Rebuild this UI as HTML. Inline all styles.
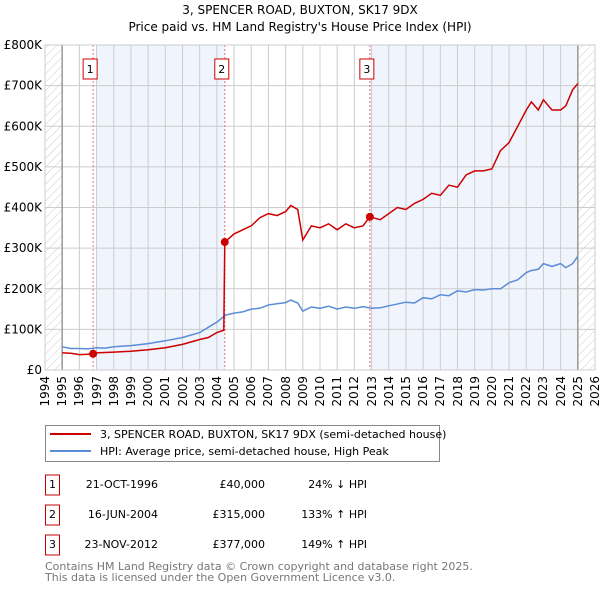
<!DOCTYPE html>
<html><head><meta charset="utf-8"><style>
body{margin:0;background:#fff;position:relative;width:600px;height:590px;overflow:hidden;}
svg{display:block;font-family:"DejaVu Sans","Liberation Sans",sans-serif;}
.xl{position:absolute;top:376px;width:14px;font:12px "DejaVu Sans","Liberation Sans",sans-serif;writing-mode:vertical-rl;transform:rotate(180deg);line-height:14px;white-space:nowrap;}
</style></head><body>
<svg id="c" width="600" height="590" viewBox="0 0 600 590">
<defs><pattern id="hatch" width="6" height="6" patternUnits="userSpaceOnUse" patternTransform="rotate(45)"><line x1="0" y1="0" x2="0" y2="6" stroke="#ccc" stroke-width="1"/></pattern></defs>
<text x="300" y="14" text-anchor="middle" font-size="12">3, SPENCER ROAD, BUXTON, SK17 9DX</text>
<text x="300" y="31" text-anchor="middle" font-size="12">Price paid vs. HM Land Registry's House Price Index (HPI)</text>
<g id="plot"></g>
<g>
<rect x="45.5" y="425.5" width="394" height="36" fill="#fff" stroke="#888"/>
<line x1="50" y1="434" x2="91" y2="434" stroke="#cc0000" stroke-width="2"/>
<text x="100" y="438" font-size="11">3, SPENCER ROAD, BUXTON, SK17 9DX (semi-detached house)</text>
<line x1="50" y1="451" x2="91" y2="451" stroke="#5b8dd6" stroke-width="2"/>
<text x="100" y="455" font-size="11">HPI: Average price, semi-detached house, High Peak</text>
</g>
<g id="table" font-size="11"></g>
<text x="45" y="570" font-size="11" fill="#777">Contains HM Land Registry data © Crown copyright and database right 2025.</text>
<text x="45" y="581" font-size="11" fill="#777">This data is licensed under the Open Government Licence v3.0.</text>
</svg>
<div id="xlabels"></div>
<script>
const yTicks=[0,100,200,300,400,500,600,700,800];
const yTickLabels=["£0","£100K","£200K","£300K","£400K","£500K","£600K","£700K","£800K"];
const years=[1994,1995,1996,1997,1998,1999,2000,2001,2002,2003,2004,2005,2006,2007,2008,2009,2010,2011,2012,2013,2014,2015,2016,2017,2018,2019,2020,2021,2022,2023,2024,2025,2026];
const hpiT=[1995,1995.5,1996,1996.5,1997,1997.5,1998,1999,2000,2001,2002,2003,2003.5,2004,2004.5,2005,2005.5,2006,2006.5,2007,2007.5,2008,2008.3,2008.7,2009,2009.5,2010,2010.5,2011,2011.5,2012,2012.5,2013,2013.5,2014,2015,2015.5,2016,2016.5,2017,2017.5,2018,2018.5,2019,2019.5,2020,2020.5,2021,2021.5,2022,2022.3,2022.7,2023,2023.5,2024,2024.3,2024.7,2025];
const hpiV=[57,53,53,52,55,54,57,60,65,72,80,92,105,118,135,140,143,150,152,160,163,166,172,165,145,155,152,157,150,155,152,156,152,153,158,167,165,178,175,185,183,195,192,198,197,200,200,215,222,240,245,248,262,255,262,252,262,280];
const redT=[1995,1995.5,1996,1996.5,1996.8,1997,1997.5,1998,1999,2000,2001,2002,2003,2003.5,2004,2004.4,2004.46,2005,2005.5,2006,2006.5,2007,2007.5,2008,2008.3,2008.7,2009,2009.5,2010,2010.5,2011,2011.5,2012,2012.5,2012.9,2013.5,2014,2014.5,2015,2015.5,2016,2016.5,2017,2017.5,2018,2018.5,2019,2019.5,2020,2020.5,2021,2021.5,2022,2022.3,2022.7,2023,2023.5,2024,2024.3,2024.7,2025];
const redV=[42,41,38,39,40,42,43,44,46,50,55,63,75,80,92,98,315,335,345,355,375,385,380,390,405,395,320,355,350,360,345,360,350,355,377,370,385,400,395,410,420,435,430,455,450,480,490,490,495,540,560,600,640,660,640,665,640,640,650,690,705];
const saleT=[1996.8,2004.46,2012.9];
const saleV=[40,315,377];
const saleLabels=["1","2","3"];
const saleDates=["21-OCT-1996","16-JUN-2004","23-NOV-2012"];
const salePrices=["£40,000","£315,000","£377,000"];
const saleHpi=["24% ↓ HPI","133% ↑ HPI","149% ↑ HPI"];

const X0=45,X1=595,Y0=370,Y1=45;
const xs=t=>X0+(t-1994)/(2026-1994)*(X1-X0);
const ys=v=>Y0-v/800*(Y0-Y1);
const NS="http://www.w3.org/2000/svg";
const plot=document.getElementById('plot');
function mk(tag,attrs,parent){const e=document.createElementNS(NS,tag);for(const k in attrs)e.setAttribute(k,attrs[k]);(parent||plot).appendChild(e);return e;}
let e;
e=mk('rect',{x:xs(1997),y:Y1,width:xs(saleT[1])-xs(1997),height:Y0-Y1,fill:'#f0f4fd'});


e=mk('rect',{x:xs(saleT[2]),y:Y1,width:xs(2025)-xs(saleT[2]),height:Y0-Y1,fill:'#f0f4fd'});


e=mk('rect',{x:X0,y:Y1,width:xs(1995)-X0,height:Y0-Y1,fill:'url(#hatch)'});


e=mk('rect',{x:xs(2025),y:Y1,width:X1-xs(2025),height:Y0-Y1,fill:'url(#hatch)'});


yTicks.forEach((v,i)=>{
 e=mk('line',{x1:X0,x2:X1,y1:ys(v),y2:ys(v),stroke:'#ccc'});
 
 
 e=mk('text',{x:X0-3,y:ys(v)+4,'text-anchor':'end','font-size':12});
 e.textContent=yTickLabels[i];
 
 
});
const xl=document.getElementById('xlabels');
years.forEach(y=>{
 e=mk('line',{x1:xs(y),x2:xs(y),y1:Y1,y2:Y0,stroke:'#ccc'});
 
 
 const d=document.createElement('div');
 d.className='xl';
 d.style.left=(xs(y)-7)+'px';
 d.textContent=y;
 
 
 xl.appendChild(d);
});
[1995,2025].forEach(y=>{e=mk('line',{x1:xs(y),x2:xs(y),y1:Y1,y2:Y0,stroke:'#999','stroke-width':1.5});
 
 });
saleT.forEach((t,i)=>{
 e=mk('line',{x1:xs(t),x2:xs(t),y1:Y1,y2:Y0,stroke:'#f07070','stroke-dasharray':'2,2'});
 
 
 e=mk('rect',{x:xs(t)-10,y:59,width:14,height:20,fill:'#fff',stroke:'#cc0000'});
 
 
 e=mk('text',{x:xs(t)-3,y:73,'text-anchor':'middle','font-size':11});
 e.textContent=saleLabels[i];
 
 
});
const pts=(T,V)=>T.map((t,i)=>xs(t).toFixed(1)+','+ys(V[i]).toFixed(1)).join(' ');
e=mk('polyline',{points:pts(hpiT,hpiV),fill:'none',stroke:'#5b8dd6','stroke-width':1.5});


e=mk('polyline',{points:pts(redT,redV),fill:'none',stroke:'#cc0000','stroke-width':1.5});


saleT.forEach((t,i)=>{
 e=mk('circle',{cx:xs(t),cy:ys(saleV[i]),r:4,fill:'#cc0000'});
 
 
});
mk('rect',{x:X0,y:Y1,width:X1-X0,height:Y0-Y1,fill:'none',stroke:'#ccc'});
const tb=document.getElementById('table');
saleT.forEach((t,i)=>{
 const cy=485+i*30;
 e=mk('rect',{x:45.5,y:cy-10,width:14,height:20,fill:'#fff',stroke:'#cc0000'},tb);
 
 
 e=mk('text',{x:52.5,y:cy+3,'text-anchor':'middle'},tb);e.textContent=saleLabels[i];
 
 
 e=mk('text',{x:158,y:cy+3,'text-anchor':'end'},tb);e.textContent=saleDates[i];
 
 
 e=mk('text',{x:265,y:cy+3,'text-anchor':'end'},tb);e.textContent=salePrices[i];
 
 
 e=mk('text',{x:367,y:cy+3,'text-anchor':'end'},tb);e.textContent=saleHpi[i];
 
 
});
</script>
</body></html>
